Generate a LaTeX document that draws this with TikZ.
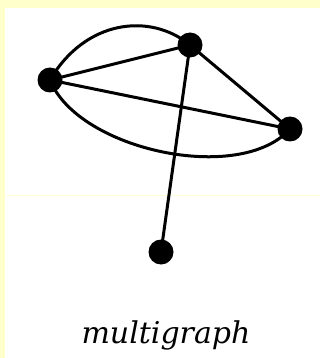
\documentclass[tikz,border=0pt]{standalone}
\usepackage{fontspec}
\newfontfamily\labfont{DejaVu Serif}
\definecolor{bgyellow}{RGB}{255,255,204}
\begin{document}
\begin{tikzpicture}[x=1pt,y=-1pt,
  vtx/.style={circle,fill=black,inner sep=0pt,minimum size=25pt},
  edge/.style={line width=3pt,black}]
\useasboundingbox (0,0) rectangle (320,358);
\fill[bgyellow] (0,0) rectangle (320,358);
\fill[white] (5,8) rectangle (320,358);
\draw[bgyellow!70,line width=0.8pt] (5,195) -- (320,195);
\node[vtx] (a) at (50,80) {};
\node[vtx] (b) at (190,45) {};
\node[vtx] (c) at (290,129) {};
\node[vtx] (d) at (161,252) {};
\draw[edge] (a.center) -- (b.center);
\draw[edge] (a.center) -- (c.center);
\draw[edge] (b.center) -- (c.center);
\draw[edge] (b.center) -- (d.center);
\draw[edge] (a.center) .. controls (85,20) and (150,12) .. (b.center);
\draw[edge] (a.center) .. controls (78,150) and (240,185) .. (c.center);
\node[font=\labfont\itshape\fontsize{30}{36}\selectfont,anchor=base] (lab) at (166,343) {multigraph};
\end{tikzpicture}
\end{document}
